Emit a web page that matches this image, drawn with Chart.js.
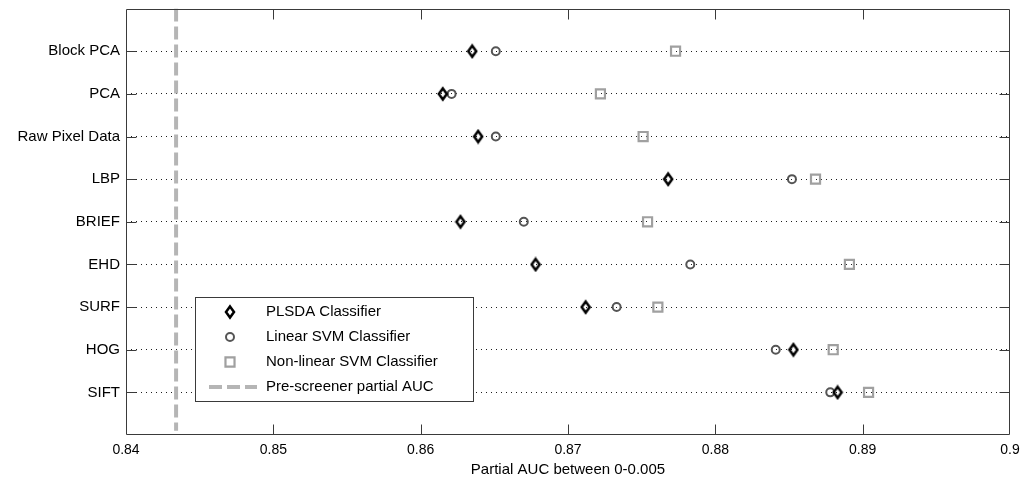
<!DOCTYPE html>
<html>
<head>
<meta charset="utf-8">
<style>
  html, body { margin: 0; padding: 0; background: #ffffff; }
  #wrap { width: 1024px; height: 483px; }
  canvas { display: block; }
</style>
<script src="https://cdn.jsdelivr.net/npm/chart.js@4/dist/chart.umd.min.js"></script>
</head>
<body>
<div id="wrap"><canvas id="chart" width="1024" height="483"></canvas></div>
<script>
// Feature sets, listed top to bottom
const categories = ['Block PCA', 'PCA', 'Raw Pixel Data', 'LBP', 'BRIEF', 'EHD', 'SURF', 'HOG', 'SIFT'];

// Partial AUC (0-0.005) per feature set and classifier
const plsdaValues     = [0.8635, 0.8615, 0.8639, 0.8768, 0.8627, 0.8678, 0.8712, 0.8853, 0.8883];
const linearSvmValues = [0.8651, 0.8621, 0.8651, 0.8852, 0.8670, 0.8783, 0.8733, 0.8841, 0.8878];
const nonlinearSvmValues = [0.8773, 0.8722, 0.8751, 0.8868, 0.8754, 0.8891, 0.8761, 0.8880, 0.8904];

// Reference level of the pre-screener
const prescreenerAuc = 0.8434;

// Axis ticks
const xTicks = [0.84, 0.85, 0.86, 0.87, 0.88, 0.89, 0.9];
const yTicks = categories.map((_, i) => categories.length - i);

const seriesNames = ['PLSDA Classifier', 'Linear SVM Classifier', 'Non-linear SVM Classifier', 'Pre-screener partial AUC'];

const FONT = "'Liberation Sans', Arial, sans-serif";
const FRAME = '#3a3a3a';

// Tall diamond marker
function makeDiamond() {
  const c = document.createElement('canvas');
  c.width = 12; c.height = 16;
  const g = c.getContext('2d');
  g.strokeStyle = '#000000';
  g.lineWidth = 2.5;
  g.beginPath();
  g.moveTo(6, 2.5);
  g.lineTo(10, 8);
  g.lineTo(6, 13.5);
  g.lineTo(2, 8);
  g.closePath();
  g.stroke();
  return c;
}
const diamond = makeDiamond();

const toPoints = vals => vals.map((v, i) => ({ x: v, y: categories.length - i }));

// Frame with inward tick marks on all four sides
const framePlugin = {
  id: 'frame',
  afterDatasetsDraw(chart) {
    const { ctx, chartArea: a, scales } = chart;
    ctx.save();
    ctx.strokeStyle = FRAME;
    ctx.lineWidth = 1;
    const L = Math.round(a.left) + 0.5, R = Math.round(a.right) - 0.5;
    const T = Math.round(a.top) + 0.5, B = Math.round(a.bottom) - 0.5;
    ctx.beginPath();
    ctx.rect(L, T, R - L, B - T);
    const tl = 10;
    xTicks.forEach(v => {
      const px = Math.round(scales.x.getPixelForValue(v)) + 0.5;
      if (px <= L + 1 || px >= R - 1) return;
      ctx.moveTo(px, B); ctx.lineTo(px, B - tl);
      ctx.moveTo(px, T); ctx.lineTo(px, T + tl);
    });
    yTicks.forEach(v => {
      const py = Math.round(scales.y.getPixelForValue(v)) + 0.5;
      ctx.moveTo(L, py); ctx.lineTo(L + tl, py);
      ctx.moveTo(R, py); ctx.lineTo(R - tl, py);
    });
    ctx.stroke();
    ctx.restore();
  }
};

// Boxed legend inside the plot area
const boxLegendPlugin = {
  id: 'boxLegend',
  afterDraw(chart) {
    const { ctx } = chart;
    const box = { x: 195.5, y: 297.5, w: 278, h: 104 };
    ctx.save();
    ctx.fillStyle = '#ffffff';
    ctx.fillRect(box.x, box.y, box.w, box.h);
    ctx.strokeStyle = FRAME;
    ctx.lineWidth = 1;
    ctx.strokeRect(box.x, box.y, box.w, box.h);

    const markX = 230, textX = 266, rowY = [312, 337, 362, 387];
    chart.data.datasets.forEach((ds, i) => {
      const y = rowY[i];
      if (ds.showLine) {
        ctx.save();
        ctx.strokeStyle = ds.borderColor;
        ctx.lineWidth = ds.borderWidth;
        ctx.setLineDash(ds.borderDash);
        ctx.beginPath();
        ctx.moveTo(209, y);
        ctx.lineTo(257, y);
        ctx.stroke();
        ctx.restore();
      } else {
        ctx.save();
        ctx.strokeStyle = ds.pointBorderColor;
        ctx.lineWidth = ds.pointBorderWidth;
        ctx.fillStyle = 'rgba(0,0,0,0)';
        Chart.helpers.drawPoint(ctx, {
          pointStyle: ds.pointStyle,
          radius: ds.pointRadius,
          borderWidth: ds.pointBorderWidth,
          rotation: 0
        }, markX, y);
        ctx.restore();
      }
      ctx.fillStyle = '#000000';
      ctx.font = '15px ' + FONT;
      ctx.textAlign = 'left';
      ctx.textBaseline = 'middle';
      ctx.fillText(ds.label, textX, y);
    });
    ctx.restore();
  }
};

const chart = new Chart(document.getElementById('chart'), {
  type: 'scatter',
  data: {
    datasets: [
      {
        label: seriesNames[0],
        data: toPoints(plsdaValues),
        showLine: false,
        pointStyle: diamond,
        pointRadius: 6,
        pointBorderWidth: 2,
        pointBorderColor: '#000000',
        pointBackgroundColor: 'rgba(0,0,0,0)',
        order: 1
      },
      {
        label: seriesNames[1],
        data: toPoints(linearSvmValues),
        showLine: false,
        pointStyle: 'circle',
        pointRadius: 4,
        pointBorderWidth: 2,
        pointBorderColor: '#555555',
        pointBackgroundColor: 'rgba(0,0,0,0)',
        order: 2
      },
      {
        label: seriesNames[2],
        data: toPoints(nonlinearSvmValues),
        showLine: false,
        pointStyle: 'rect',
        pointRadius: 6.4,
        pointBorderWidth: 2.2,
        pointBorderColor: '#a0a0a0',
        pointBackgroundColor: 'rgba(0,0,0,0)',
        order: 3
      },
      {
        label: seriesNames[3],
        type: 'line',
        data: [{ x: prescreenerAuc, y: 10 }, { x: prescreenerAuc, y: 0.1 }],
        showLine: true,
        borderColor: '#b5b5b5',
        borderWidth: 4,
        borderDash: [13, 5],
        borderCapStyle: 'butt',
        pointRadius: 0,
        fill: false,
        order: 4
      }
    ]
  },
  options: {
    responsive: false,
    animation: false,
    layout: { padding: { left: 0, right: 14, top: 8, bottom: 0 } },
    plugins: {
      legend: { display: false },
      tooltip: { enabled: false },
      title: { display: false }
    },
    scales: {
      x: {
        type: 'linear',
        min: 0.84,
        max: 0.9,
        afterBuildTicks: s => { s.ticks = xTicks.map(v => ({ value: v })); },
        afterFit: s => { s.height = 48; s.paddingLeft = 0; s.paddingRight = 0; },
        grid: { display: false, drawTicks: false },
        border: { display: false },
        ticks: {
          autoSkip: false,
          maxRotation: 0,
          padding: 7,
          color: '#000000',
          font: { family: FONT, size: 14 },
          callback: v => String(Number(v.toFixed(2)))
        },
        title: {
          display: true,
          text: 'Partial AUC between 0-0.005',
          color: '#000000',
          font: { family: FONT, size: 15 },
          padding: { top: 0, bottom: 4 }
        }
      },
      y: {
        type: 'linear',
        min: 0,
        max: 10,
        afterBuildTicks: s => { s.ticks = yTicks.map(v => ({ value: v })); },
        afterFit: s => { s.width = 126; s.paddingTop = 0; s.paddingBottom = 0; },
        grid: {
          display: true,
          drawTicks: false,
          color: '#1e1e1e',
          lineWidth: 1
        },
        border: { display: false, dash: [1, 4] },
        ticks: {
          autoSkip: false,
          padding: 6,
          color: '#000000',
          font: { family: FONT, size: 15 },
          callback: v => categories[categories.length - v]
        }
      }
    }
  },
  plugins: [framePlugin, boxLegendPlugin]
});
</script>
</body>
</html>
